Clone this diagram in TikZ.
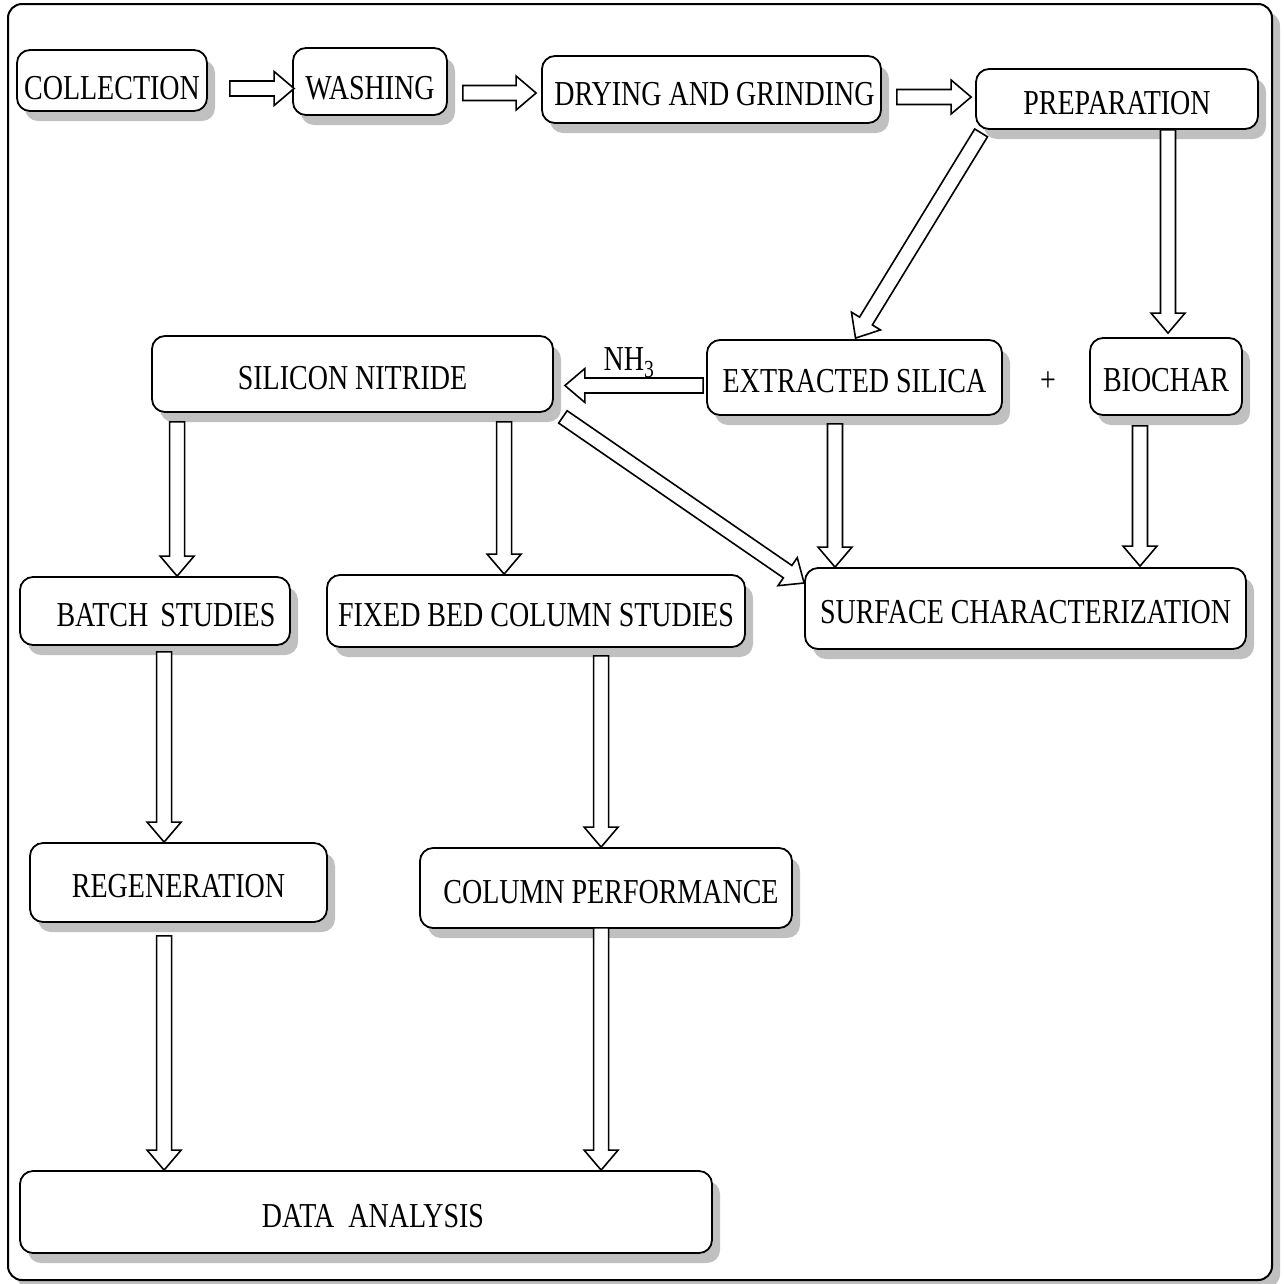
\documentclass[tikz,border=0pt]{standalone}
\usepackage{fontspec}
\setmainfont{Liberation Serif}[FakeStretch=0.8]
\usetikzlibrary{calc,shadows}
\definecolor{shgray}{RGB}{192,192,192}
\tikzset{
  box/.style={draw, line width=1.8pt, rounded corners=13pt, fill=white,
    drop shadow={shadow xshift=8pt, shadow yshift=-10pt, fill=shgray, opacity=1},
    inner sep=0pt, font=\fontsize{35}{40}\selectfont, text height=30pt, text depth=0pt},
  blk/.style={draw, line width=1.6pt, fill=white, line join=miter},
  lbl/.style={inner sep=0pt, font=\fontsize{35}{40}\selectfont}
}
\newcommand\blockarrow[2]{%
  \coordinate (hb) at ($(#2)!20pt!(#1)$);
  \draw[blk] ($(#1)!7.5pt!90:(#2)$) -- ($(hb)!7.5pt!-90:(#1)$) -- ($(hb)!17pt!-90:(#1)$) -- (#2)
     -- ($(hb)!17pt!90:(#1)$) -- ($(hb)!7.5pt!90:(#1)$) -- ($(#1)!7.5pt!-90:(#2)$) -- cycle;}
\begin{document}
\begin{tikzpicture}[x=1pt,y=-1pt]
\useasboundingbox (0,0) rectangle (1284,1283);
% outer frame
\draw[line width=2pt, rounded corners=14pt, fill=white,
  drop shadow={shadow xshift=8pt, shadow yshift=-8pt, fill=shgray, opacity=1}]
  (8,4) rectangle (1272,1280);

% boxes
\node[box, minimum width=190, minimum height=61, text height=37pt] (col) at (112,80.5) {COLLECTION};
\node[box, minimum width=154, minimum height=67, text height=36pt] (wash) at (370,81.5) {WASHING};
\node[box, minimum width=339, minimum height=67, text height=32pt] (dry) at (711.5,89.5) {\hspace*{6pt}DRYING AND GRINDING};
\node[box, minimum width=282, minimum height=60] (prep) at (1117,99) {PREPARATION};
\node[box, minimum width=295, minimum height=75] (silica) at (854.5,377.5) {EXTRACTED SILICA};
\node[box, minimum width=152, minimum height=77] (bio) at (1166,376.5) {BIOCHAR};
\node[box, minimum width=401, minimum height=76] (sn) at (352.5,374) {SILICON NITRIDE};
\node[box, minimum width=270, minimum height=68] (batch) at (155,611) {\hspace*{22pt}BATCH\hspace{12pt}STUDIES};
\node[box, minimum width=418, minimum height=72] (fixed) at (536,611) {FIXED BED COLUMN STUDIES};
\node[box, minimum width=441, minimum height=81] (surf) at (1025.5,608.5) {SURFACE CHARACTERIZATION};
\node[box, minimum width=297, minimum height=79] (regen) at (178.5,882.5) {REGENERATION};
\node[box, minimum width=372, minimum height=80] (colp) at (606,888) {\hspace*{10pt}COLUMN PERFORMANCE};
\node[box, minimum width=692, minimum height=82] (data) at (366,1212) {\hspace*{14pt}DATA\hspace{14pt}ANALYSIS};

% labels
\node[lbl, anchor=base] (nh3) at (629,370) {NH\textsubscript{3}};
\node[lbl] (plus) at (1048,382) {+};

% arrow end points
\coordinate (a1s) at ($(col.east)+(22,8)$);
\coordinate (a1e) at ($(wash.west |- a1s)+(2,0)$);
\coordinate (a2s) at ($(wash.east)+(15,11.5)$);
\coordinate (a2e) at ($(dry.west |- a2s)+(-5,0)$);
\coordinate (a3s) at ($(dry.east)+(15,7.5)$);
\coordinate (a3e) at ($(prep.west |- a3s)+(-4,0)$);
\coordinate (a4s) at ($(prep.south west)+(6,3)$);
\coordinate (a4e) at ($(silica.north)+(1,-1)$);
\coordinate (a5s) at ($(prep.south)+(51,0)$);
\coordinate (a5e) at ($(a5s |- bio.north)+(0,-4)$);
\coordinate (a6s) at ($(silica.west)+(-3,8)$);
\coordinate (a6e) at ($(sn.east |- a6s)+(11,0)$);
\coordinate (a7s) at ($(sn.south east)+(9,4)$);
\coordinate (a7e) at ($(surf.west)+(0,-25.5)$);
\coordinate (a8s) at ($(silica.south)+(-19.5,8)$);
\coordinate (a8e) at (a8s |- surf.north);
\coordinate (a9s) at ($(bio.south)+(-26,10)$);
\coordinate (a9e) at ($(a9s |- surf.north)+(0,-1)$);
\coordinate (a10s) at ($(sn.south west)+(26,9)$);
\coordinate (a10e) at (a10s |- batch.north);
\coordinate (a11s) at ($(sn.south west)+(353,9)$);
\coordinate (a11e) at (a11s |- fixed.north);
\coordinate (a12s) at ($(batch.south west)+(145,6)$);
\coordinate (a12e) at (a12s |- regen.north);
\coordinate (a13s) at ($(fixed.south west)+(275,8)$);
\coordinate (a13e) at (a13s |- colp.north);
\coordinate (a14s) at ($(regen.south west)+(135,13)$);
\coordinate (a14e) at (a14s |- data.north);
\coordinate (a15s) at ($(colp.south west)+(182,-1)$);
\coordinate (a15e) at (a15s |- data.north);

% arrows
\blockarrow{a1s}{a1e}
\blockarrow{a2s}{a2e}
\blockarrow{a3s}{a3e}
\blockarrow{a4s}{a4e}
\blockarrow{a5s}{a5e}
\blockarrow{a6s}{a6e}
\blockarrow{a7s}{a7e}
\blockarrow{a8s}{a8e}
\blockarrow{a9s}{a9e}
\blockarrow{a10s}{a10e}
\blockarrow{a11s}{a11e}
\blockarrow{a12s}{a12e}
\blockarrow{a13s}{a13e}
\blockarrow{a14s}{a14e}
\blockarrow{a15s}{a15e}
\end{tikzpicture}
\end{document}
